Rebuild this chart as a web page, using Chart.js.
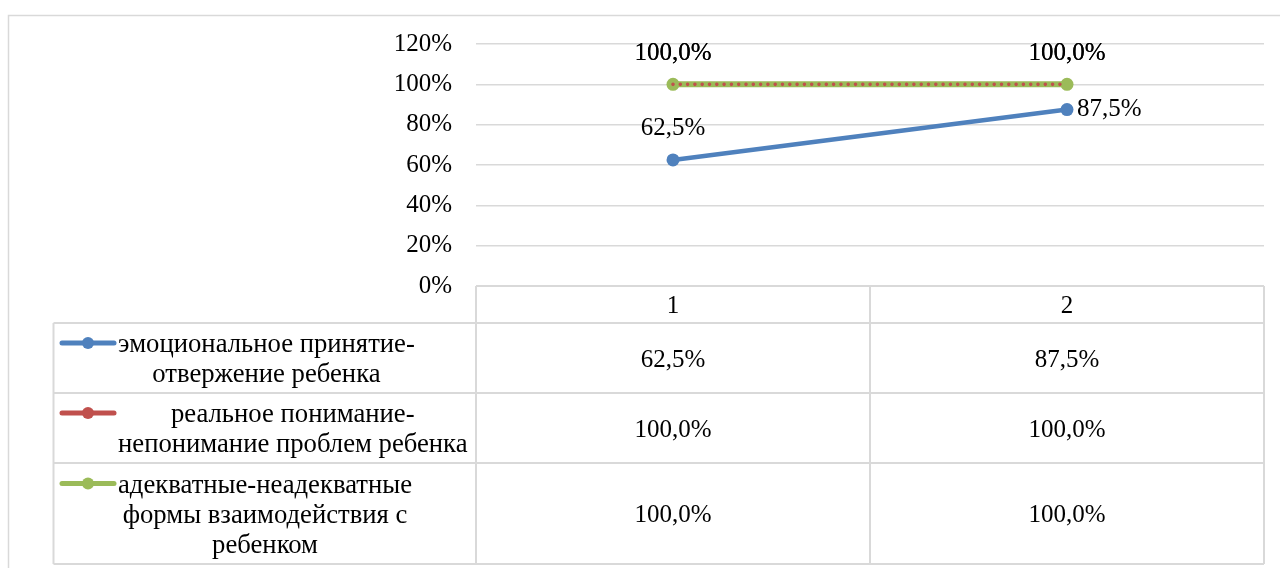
<!DOCTYPE html>
<html><head><meta charset="utf-8">
<script src="https://cdn.jsdelivr.net/npm/chart.js@4.4.1/dist/chart.umd.min.js"></script>
<style>html,body{margin:0;padding:0;background:#fff;overflow:hidden}canvas{display:block}</style>
</head><body>
<canvas id="c" width="1280" height="568"></canvas>
<script>
// ---- data ----
const categories = ['1', '2'];
const seriesNames = [
  ['эмоциональное принятие-', 'отвержение ребенка'],
  ['реальное понимание-', 'непонимание проблем ребенка'],
  ['адекватные-неадекватные', 'формы взаимодействия с', 'ребенком']
];
const emotionalValues = [62.5, 87.5];
const understandingValues = [100, 100];
const interactionValues = [100, 100];
const yTickValues = [0, 20, 40, 60, 80, 100, 120];

// ---- style ----
const SERIF = '"Liberation Serif", "Times New Roman", serif';
const GRID = '#d9d9d9';
const BLUE = '#4f81bd', RED = '#c0504d', GREEN = '#9bbb59';
const fmt = v => v.toFixed(1).replace('.', ',') + '%';

const framePlugin = {
  id: 'frame',
  beforeDraw(chart) {
    const ctx = chart.ctx;
    ctx.save();
    ctx.fillStyle = '#fff';
    ctx.fillRect(0, 0, chart.width, chart.height);
    ctx.strokeStyle = GRID; ctx.lineWidth = 1.5;
    ctx.beginPath();
    ctx.moveTo(8.5, 700); ctx.lineTo(8.5, 15.5); ctx.lineTo(1300, 15.5);
    ctx.stroke();
    ctx.restore();
  }
};

const labelPlugin = {
  id: 'labels',
  afterDatasetsDraw(chart) {
    const ctx = chart.ctx;
    ctx.save();
    ctx.font = '25px ' + SERIF;
    ctx.fillStyle = '#000';
    chart.data.datasets.forEach((ds, di) => {
      const meta = chart.getDatasetMeta(di);
      meta.data.forEach((el, i) => {
        const t = fmt(ds.data[i]);
        if (di === 0 && i === 1) {
          ctx.textAlign = 'left'; ctx.textBaseline = 'middle';
          ctx.fillText(t, el.x + 10, el.y);
        } else {
          ctx.textAlign = 'center'; ctx.textBaseline = 'middle';
          ctx.fillText(t, el.x, el.y - (di === 0 ? 32 : 31));
        }
      });
    });
    ctx.restore();
  }
};

const tablePlugin = {
  id: 'table',
  afterDraw(chart) {
    const ctx = chart.ctx;
    const ca = chart.chartArea;
    const xs = chart.scales.x;
    const c0 = xs.getPixelForValue(0), c1 = xs.getPixelForValue(1);
    const mid = (c0 + c1) / 2;
    const tLeft = 53.5;
    const rows = [ca.bottom, 323, 393, 463, 564];
    ctx.save();
    ctx.strokeStyle = GRID; ctx.lineWidth = 2;
    ctx.beginPath();
    ctx.moveTo(ca.left, rows[0]); ctx.lineTo(ca.right, rows[0]);
    for (let r = 1; r < rows.length; r++) { ctx.moveTo(tLeft, rows[r]); ctx.lineTo(ca.right, rows[r]); }
    ctx.moveTo(tLeft, rows[1]); ctx.lineTo(tLeft, rows[4]);
    [ca.left, mid, ca.right].forEach(x => { ctx.moveTo(x, rows[0]); ctx.lineTo(x, rows[4]); });
    ctx.stroke();

    const cxs = [c0, c1];
    ctx.fillStyle = '#000';
    ctx.textBaseline = 'middle'; ctx.textAlign = 'center';
    ctx.font = '25px ' + SERIF;
    chart.data.labels.forEach((l, i) => ctx.fillText(l, cxs[i], (rows[0] + rows[1]) / 2 + 1.5));
    chart.data.datasets.forEach((ds, di) => {
      const cy = (rows[di + 1] + rows[di + 2]) / 2;
      ctx.font = '25px ' + SERIF;
      ds.data.forEach((v, i) => ctx.fillText(fmt(v), cxs[i], cy + 2));
      // legend key
      const lines = seriesNames[di];
      const lh = 30;
      const y0 = cy - (lines.length - 1) / 2 * lh + 2;
      ctx.strokeStyle = ds.borderColor; ctx.lineWidth = 5; ctx.lineCap = 'round';
      ctx.beginPath(); ctx.moveTo(62, y0 - 2); ctx.lineTo(114, y0 - 2); ctx.stroke();
      ctx.fillStyle = ds.borderColor;
      ctx.beginPath(); ctx.arc(88, y0 - 2, 6, 0, Math.PI * 2); ctx.fill();
      // label text
      ctx.fillStyle = '#000';
      ctx.font = '26.7px ' + SERIF;
      const maxW = Math.max(...lines.map(s => ctx.measureText(s).width));
      const cx = 118 + maxW / 2;
      lines.forEach((s, k) => ctx.fillText(s, cx, y0 + k * lh));
    });
    ctx.restore();
  }
};

new Chart(document.getElementById('c'), {
  type: 'line',
  data: {
    labels: categories,
    datasets: [
      { label: seriesNames[0].join(''), data: emotionalValues, borderColor: BLUE, backgroundColor: BLUE,
        borderWidth: 4.5, pointRadius: 6.5, pointBackgroundColor: BLUE, pointBorderWidth: 0, order: 3 },
      { label: seriesNames[1].join(''), data: understandingValues, borderColor: RED, backgroundColor: RED,
        borderWidth: 3.6, borderDash: [0, 7.3], borderCapStyle: 'round', pointRadius: 0, order: 1 },
      { label: seriesNames[2].join(' '), data: interactionValues, borderColor: GREEN, backgroundColor: GREEN,
        borderWidth: 6, pointRadius: 6.5, pointBackgroundColor: GREEN, pointBorderWidth: 0, order: 2 }
    ]
  },
  options: {
    responsive: false, animation: false, devicePixelRatio: 1,
    layout: { padding: { top: 44, left: 0, right: 16, bottom: 0 } },
    plugins: { legend: { display: false }, tooltip: { enabled: false } },
    scales: {
      x: {
        offset: true,
        grid: { display: false }, border: { display: false },
        ticks: { display: false },
        afterFit: s => { s.height = 282; }
      },
      y: {
        min: 0, max: 120,
        afterBuildTicks: s => { s.ticks = yTickValues.map(v => ({ value: v })); },
        afterFit: s => { s.width = 476; },
        grid: { color: GRID, lineWidth: 1.5, drawTicks: false },
        border: { display: false },
        ticks: { padding: 24, color: '#000', font: { family: SERIF, size: 25 }, callback: v => v + '%' }
      }
    }
  },
  plugins: [framePlugin, labelPlugin, tablePlugin]
});
</script>
</body></html>
